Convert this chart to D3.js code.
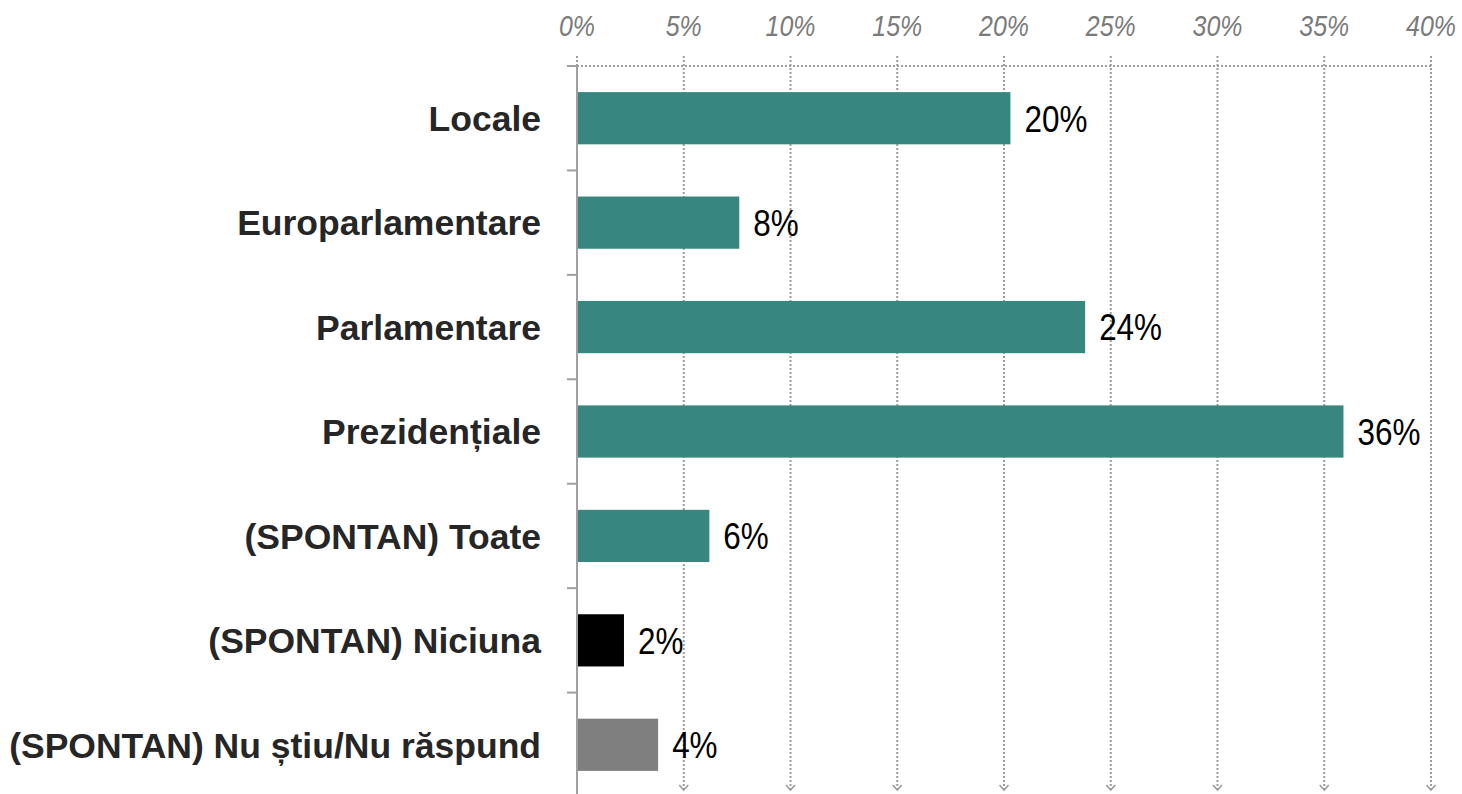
<!DOCTYPE html>
<html>
<head>
<meta charset="utf-8">
<script src="https://cdn.jsdelivr.net/npm/d3@7"></script>
<style>
html,body{margin:0;padding:0;background:#fff;}
svg{display:block;}
</style>
</head>
<body>
<svg id="chart" width="1462" height="794"></svg>
<script>
const categories = ["Locale","Europarlamentare","Parlamentare","Prezidențiale","(SPONTAN) Toate","(SPONTAN) Niciuna","(SPONTAN) Nu știu/Nu răspund"];
const values = [20.3, 7.6, 23.8, 35.9, 6.2, 2.2, 3.8];
const valueLabels = ["20%","8%","24%","36%","6%","2%","4%"];
const barColors = ["#378680","#378680","#378680","#378680","#378680","#000000","#7f7f7f"];
const xTicks = [0,5,10,15,20,25,30,35,40];
const xTickLabels = ["0%","5%","10%","15%","20%","25%","30%","35%","40%"];

const svg = d3.select("#chart");
const mLeft = 577, mRight = 1431, mTop = 66, mBottom = 797;
const gridColor = "#9c9c9c";

const x = d3.scaleLinear().domain([0,40]).range([mLeft,mRight]);
const y = d3.scaleBand().domain(categories).range([mTop,mBottom]).paddingInner(0.5).paddingOuter(0.25);

// arrow marker
const defs = svg.append("defs");
defs.append("marker").attr("id","chev").attr("viewBox","0 0 12 12")
  .attr("refX",6).attr("refY",10).attr("markerWidth",12).attr("markerHeight",12)
  .attr("markerUnits","userSpaceOnUse").attr("orient","0")
  .append("path").attr("d","M1.5,5 L6,10 L10.5,5").attr("fill","none").attr("stroke",gridColor).attr("stroke-width",1.6);

// vertical gridlines
svg.append("g").selectAll("line").data(xTicks).join("line")
  .attr("x1",d=>x(d)).attr("x2",d=>x(d))
  .attr("y1",56).attr("y2",d=> d===0 ? mTop : 790)
  .attr("stroke",gridColor).attr("stroke-width",2).attr("stroke-dasharray","2,2")
  .attr("marker-end",d=> d===0 ? null : "url(#chev)");

// top dotted line
svg.append("line").attr("x1",x(0)).attr("x2",x(40)).attr("y1",mTop).attr("y2",mTop)
  .attr("stroke",gridColor).attr("stroke-width",2).attr("stroke-dasharray","2,2");

// top tick labels
svg.append("g").selectAll("text").data(xTicks).join("text")
  .attr("transform",d=>`translate(${x(d)},36) scale(0.86,1)`)
  .attr("text-anchor","middle")
  .attr("font-family","'Liberation Sans',Arial,sans-serif")
  .attr("font-style","italic").attr("font-size",29).attr("fill","#7a7a7a")
  .text((d,i)=>xTickLabels[i]);

// bars
svg.append("g").selectAll("rect").data(categories).join("rect")
  .attr("x",x(0)).attr("y",d=>y(d))
  .attr("width",(d,i)=>x(values[i])-x(0)).attr("height",y.bandwidth())
  .attr("fill",(d,i)=>barColors[i]);

// y axis line
svg.append("line").attr("x1",mLeft).attr("x2",mLeft).attr("y1",mTop).attr("y2",794)
  .attr("stroke","#a0a0a0").attr("stroke-width",2);
// band boundary ticks
const bounds = categories.map(c=>y(c) - y.step()*y.paddingOuter());
svg.append("g").selectAll("line").data(bounds).join("line")
  .attr("x1",mLeft-10).attr("x2",mLeft).attr("y1",d=>d).attr("y2",d=>d)
  .attr("stroke","#a0a0a0").attr("stroke-width",2);

// category labels
svg.append("g").selectAll("text").data(categories).join("text")
  .attr("x",541).attr("y",d=>y(d)+y.bandwidth()/2).attr("dy","0.36em")
  .attr("text-anchor","end")
  .attr("font-family","'Liberation Sans',Arial,sans-serif").attr("font-weight","bold")
  .attr("font-size",35.5).attr("fill","#262626")
  .text(d=>d);

// value labels
svg.append("g").selectAll("text").data(categories).join("text")
  .attr("transform",(d,i)=>`translate(${x(values[i])+14},${y(d)+y.bandwidth()/2}) scale(0.85,1)`)
  .attr("dy","0.36em")
  .attr("font-family","'Liberation Sans',Arial,sans-serif")
  .attr("font-size",37).attr("fill","#000")
  .text((d,i)=>valueLabels[i]);
</script>
</body>
</html>
